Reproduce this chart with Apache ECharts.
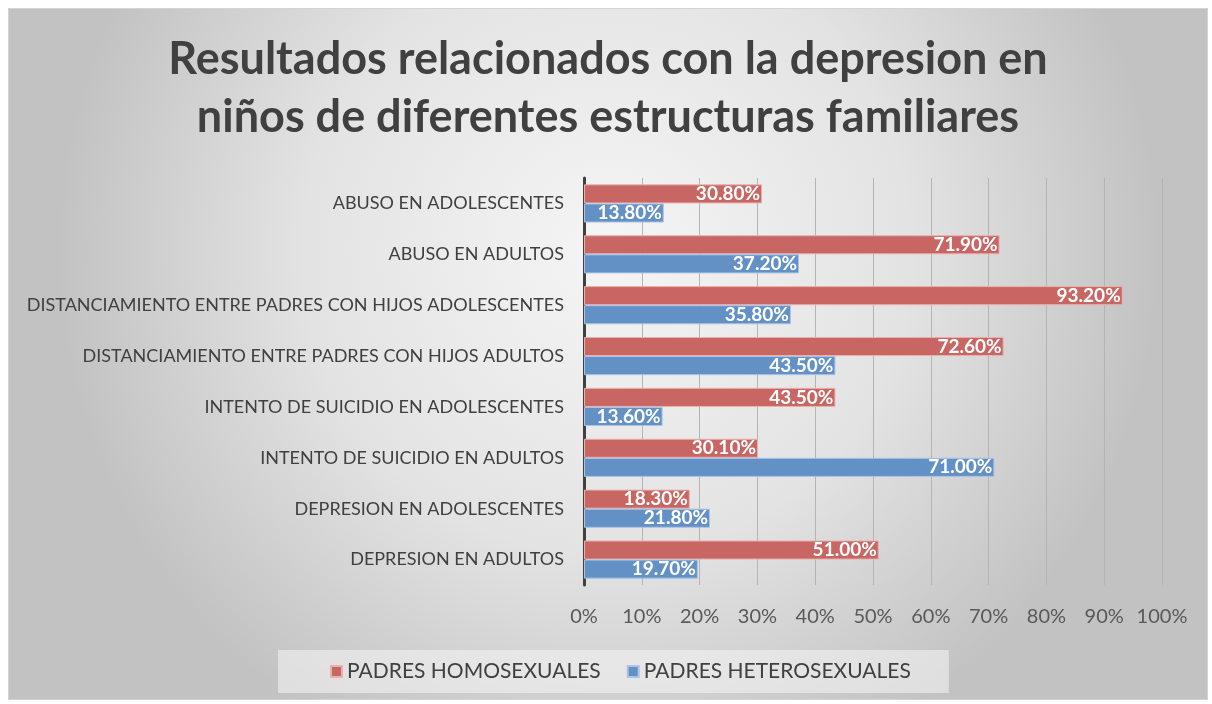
<!DOCTYPE html>
<html>
<head>
<meta charset="utf-8">
<script src="https://cdn.jsdelivr.net/npm/echarts@6/dist/echarts.min.js"></script>
<style>
  html, body { margin: 0; padding: 0; background: #ffffff; }
  #chart {
    position: absolute;
    left: 8px;
    top: 8px;
    width: 1198px;
    height: 690px;
    border: 1px solid #d4d4d4;
  }
</style>
</head>
<body>
<div id="chart"></div>
<script>
// categories, bottom to top as drawn on the value axis
const categories = [
  "DEPRESION EN ADULTOS",
  "DEPRESION EN ADOLESCENTES",
  "INTENTO DE SUICIDIO EN ADULTOS",
  "INTENTO DE SUICIDIO EN ADOLESCENTES",
  "DISTANCIAMIENTO ENTRE PADRES CON HIJOS ADULTOS",
  "DISTANCIAMIENTO ENTRE PADRES CON HIJOS ADOLESCENTES",
  "ABUSO EN ADULTOS",
  "ABUSO EN ADOLESCENTES",
];
const homosexuales = [51.0, 18.3, 30.1, 43.5, 72.6, 93.2, 71.9, 30.8];
const heterosexuales = [19.7, 21.8, 71.0, 13.6, 43.5, 35.8, 37.2, 13.8];
const seriesNames = ["PADRES HOMOSEXUALES", "PADRES HETEROSEXUALES"];
const titleText = "Resultados relacionados con la depresion en\nniños de diferentes estructuras familiares";

const font = "Lato, 'Open Sans', sans-serif";
const chart = echarts.init(document.getElementById("chart"));

const barLabel = {
  show: true,
  position: "insideRight",
  distance: 2,
  color: "#ffffff",
  textBorderWidth: 0,
  fontFamily: font,
  fontWeight: "bold",
  fontSize: 19,
  formatter: (p) => p.value.toFixed(2) + "%",
};

chart.setOption({
  backgroundColor: {
    type: "radial",
    x: 0.5,
    y: 0.35,
    r: 0.8,
    colorStops: [
      { offset: 0, color: "#f5f5f5" },
      { offset: 0.55, color: "#e3e3e3" },
      { offset: 1, color: "#c2c2c2" },
    ],
  },
  title: {
    text: titleText,
    left: "center",
    top: 16,
    padding: [5, 5, 5, 15],
    textStyle: {
      fontFamily: font,
      fontWeight: "bold",
      fontSize: 45,
      lineHeight: 58,
      color: "#404040",
    },
  },
  grid: {
    left: 575,
    right: 45,
    top: 169,
    bottom: 114,
    containLabel: false,
  },
  legend: {
    data: seriesNames,
    bottom: 6,
    left: 269,
    itemWidth: 11,
    itemHeight: 11,
    itemGap: 26,
    icon: "rect",
    padding: [11, 38, 11, 52],
    backgroundColor: "rgba(245,245,245,0.55)",
    textStyle: {
      fontFamily: font,
      fontSize: 21,
      color: "#404040",
    },
  },
  xAxis: {
    type: "value",
    min: 0,
    max: 100,
    interval: 10,
    axisLabel: {
      formatter: "{value}%",
      color: "#595959",
      fontFamily: font,
      fontSize: 20,
      margin: 22,
    },
    axisLine: { show: false },
    axisTick: { show: false },
    splitLine: {
      show: true,
      lineStyle: { color: "#b4b4b4", width: 1 },
    },
  },
  yAxis: {
    type: "category",
    data: categories,
    axisLabel: {
      color: "#404040",
      fontFamily: font,
      fontSize: 18,
      margin: 20,
    },
    axisLine: { show: true, lineStyle: { color: "#404040", width: 3 } },
    axisTick: { show: false },
  },
  series: [
    {
      name: seriesNames[0],
      type: "bar",
      data: homosexuales,
      barGap: "0%",
      barCategoryGap: "25%",
      itemStyle: {
        color: "#c86664",
        borderColor: "#eab0ae",
        borderWidth: 1,
      },
      label: barLabel,
    },
    {
      name: seriesNames[1],
      type: "bar",
      data: heterosexuales,
      barGap: "0%",
      barCategoryGap: "25%",
      itemStyle: {
        color: "#6391c6",
        borderColor: "#a9c4e6",
        borderWidth: 1,
      },
      label: barLabel,
    },
  ],
});

window.addEventListener("resize", () => {
  chart && chart.resize();
});
</script>
</body>
</html>
